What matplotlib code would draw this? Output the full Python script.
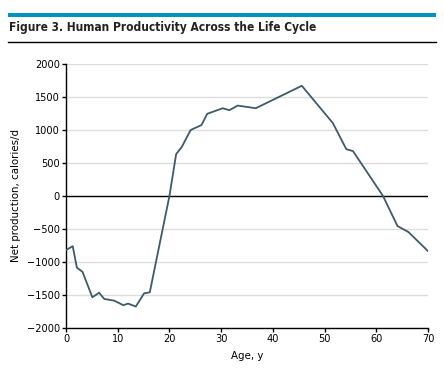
import numpy as np
import matplotlib
matplotlib.use("Agg")
import matplotlib.pyplot as plt

# values
age = [0, 1.3, 2.1, 3.2, 5.1, 6.4, 7.4, 9.3, 11.1, 12.0, 13.5, 15.1, 16.2,
       20.0, 21.3, 22.4, 24.1, 26.2, 27.3, 30.3, 31.6, 33.2, 36.7, 45.6,
       51.6, 54.2, 55.5, 61.3, 64.1, 66.2, 70]
net_prod = [-820, -760, -1085, -1150, -1535, -1465, -1560, -1585, -1655,
            -1630, -1675, -1475, -1460, 0, 635, 745, 1000, 1075, 1245, 1330,
            1300, 1370, 1330, 1670, 1105, 710, 680, 0, -455, -545, -835]
yticks = list(range(-2000, 2001, 500))
xticks = list(range(0, 71, 10))

plt.rcParams['font.family'] = ['DejaVu Sans']
plt.rcParams['font.stretch'] = 'condensed'

fig = plt.figure(figsize=(4.44, 3.76), dpi=100)
W, H = 444, 376

# header: blue band, title, rule
fig.add_artist(plt.Rectangle((8 / W, 1 - 16.5 / H), 428 / W, 3.5 / H,
                             transform=fig.transFigure, color='#0093c4', lw=0))
fig.text(9 / W, 1 - 28 / H, 'Figure 3. Human Productivity Across the Life Cycle',
         fontsize=8.6, fontweight='bold', fontstretch='condensed',
         va='center', ha='left', color='#222222')
fig.add_artist(plt.Line2D([8 / W, 436 / W], [1 - 42 / H, 1 - 42 / H],
                          transform=fig.transFigure, color='black', lw=1))

ax = fig.add_axes([66 / W, 1 - 328 / H, 362 / W, 264 / H])
ax.plot(age, net_prod, color='#3e5b68', lw=1.3, zorder=3)
ax.axhline(0, color='black', lw=1, zorder=2)
ax.set_xlim(0, 70)
ax.set_ylim(-2000, 2000)
ax.set_xticks(xticks)
ax.set_yticks(yticks)
ax.yaxis.grid(True, color='#dddddd', lw=1)
ax.set_axisbelow(True)
for s in ['top', 'right']:
    ax.spines[s].set_visible(False)
for s in ['left', 'bottom']:
    ax.spines[s].set_linewidth(1)
ax.tick_params(labelsize=7.8, length=3, width=1, pad=1.5, colors='black')
ax.set_xlabel('Age, y', fontsize=8.2, labelpad=5)
ax.set_ylabel('Net production, calories/d', fontsize=8.2, labelpad=4)

fig.savefig('out.png', dpi=100)
